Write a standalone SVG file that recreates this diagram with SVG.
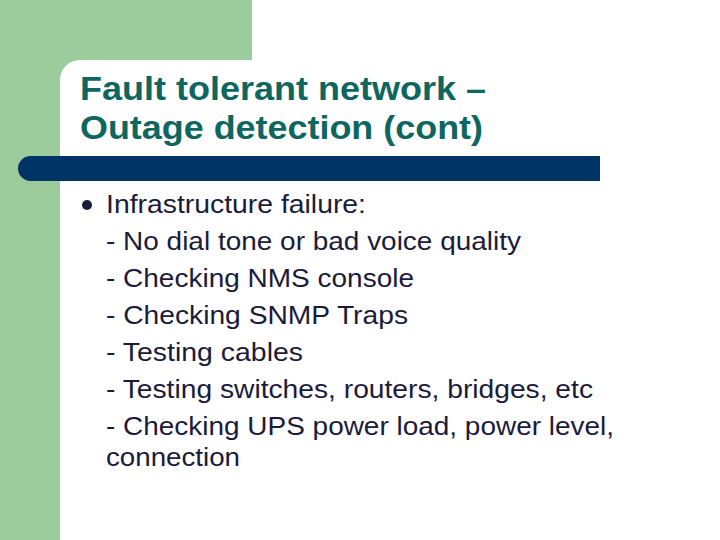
<svg xmlns="http://www.w3.org/2000/svg" width="720" height="540" viewBox="0 0 720 540">
<style>
.t{font-family:"Liberation Sans",Arial,sans-serif;font-size:25px;fill:#1b1b3a}
.h{font-family:"Liberation Sans",Arial,sans-serif;font-size:33px;font-weight:bold;fill:#0e6660}
</style>
<rect x="0" y="0" width="720" height="540" fill="#fff"/>
<rect x="0" y="0" width="252" height="60" fill="#9ccb9c"/>
<rect x="0" y="0" width="60" height="540" fill="#9ccb9c"/>
<path d="M60 60 H80 A20 20 0 0 0 60 80 Z" fill="#9ccb9c"/>
<rect x="18" y="156" width="582" height="25" rx="12.5" fill="#003366"/>
<rect x="60" y="156" width="540" height="25" fill="#003366"/>
<text class="h" x="80" y="100" textLength="406" lengthAdjust="spacingAndGlyphs">Fault tolerant network –</text>
<text class="h" x="80" y="139" textLength="403" lengthAdjust="spacingAndGlyphs">Outage detection (cont)</text>
<circle cx="87" cy="205" r="5" fill="#1b1b3a"/>
<text class="t" x="106" y="213" textLength="260" lengthAdjust="spacingAndGlyphs">Infrastructure failure:</text>
<text class="t" x="106" y="250" textLength="415" lengthAdjust="spacingAndGlyphs">- No dial tone or bad voice quality</text>
<text class="t" x="106" y="287" textLength="308" lengthAdjust="spacingAndGlyphs">- Checking NMS console</text>
<text class="t" x="106" y="324" textLength="302" lengthAdjust="spacingAndGlyphs">- Checking SNMP Traps</text>
<text class="t" x="106" y="361" textLength="197" lengthAdjust="spacingAndGlyphs">- Testing cables</text>
<text class="t" x="106" y="398" textLength="487" lengthAdjust="spacingAndGlyphs">- Testing switches, routers, bridges, etc</text>
<text class="t" x="106" y="435" textLength="508" lengthAdjust="spacingAndGlyphs">- Checking UPS power load, power level,</text>
<text class="t" x="106" y="466" textLength="134" lengthAdjust="spacingAndGlyphs">connection</text>
</svg>
